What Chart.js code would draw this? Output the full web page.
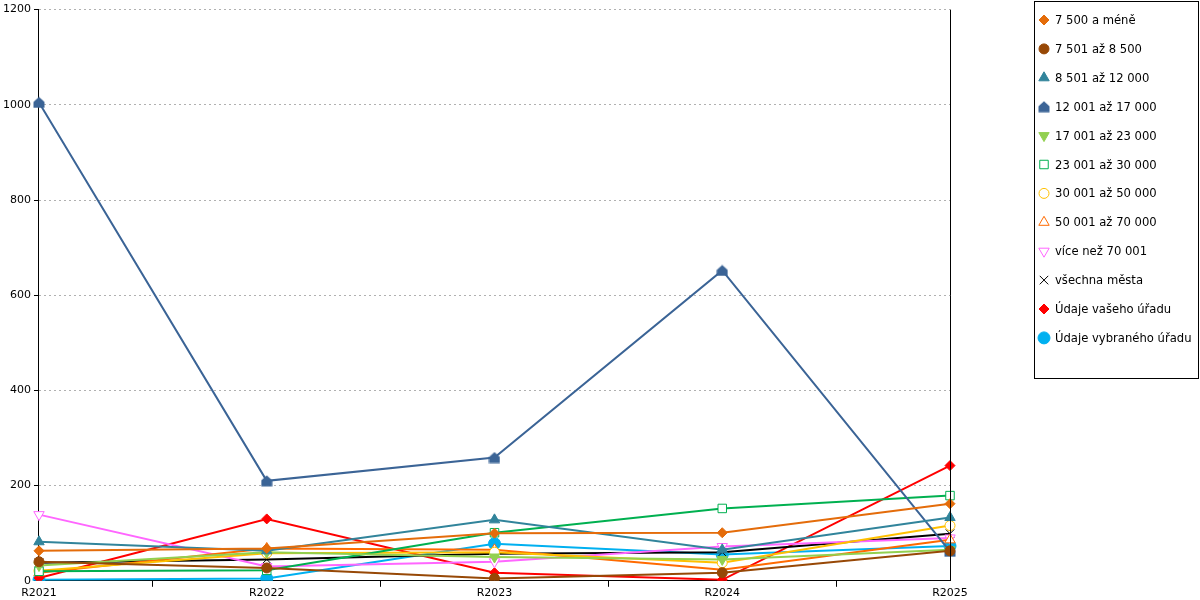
<!DOCTYPE html>
<html>
<head>
<meta charset="utf-8">
<script src="https://cdn.jsdelivr.net/npm/chart.js@4/dist/chart.umd.min.js"></script>
<style>
  html, body { margin: 0; padding: 0; background: #fff; }
  #wrap { width: 1200px; height: 600px; }
</style>
</head>
<body>
<div id="wrap"><canvas id="chart"></canvas></div>
<script>
// Data
const years = ['R2021', 'R2022', 'R2023', 'R2024', 'R2025'];
const yTicks = [0, 200, 400, 600, 800, 1000, 1200];

const upTo7500 = [63, 68, 100, 101, 162];
const from7501 = [40, 27, 5, 17, 63];
const from8501 = [82, 63, 128, 65, 133];
const from12001 = [1005, 210, 259, 652, 62];
const from17001 = [32, 60, 50, 45, 65];
const from23001 = [20, 22, 101, 152, 179];
const from30001 = [21, 58, 60, 38, 116];
const from50001 = [17, 68, 65, 23, 86];
const over70001 = [139, 30, 40, 72, 90];
const allCities = [38, 45, 57, 60, 99];
const yourOffice = [6, 130, 17, 2, 242];
const selectedOffice = [2, 5, 78, 55, 73];

// house shaped marker for 12 001 až 17 000
function houseMarker(color) {
    const c = document.createElement('canvas');
    c.width = 12; c.height = 12;
    const g = c.getContext('2d');
    g.fillStyle = color;
    g.beginPath();
    g.moveTo(6, 0.5);
    g.lineTo(11.5, 5.5);
    g.lineTo(11.5, 11.5);
    g.lineTo(0.5, 11.5);
    g.lineTo(0.5, 5.5);
    g.closePath();
    g.fill();
    return c;
}

function series(label, data, color, style, opts) {
    return Object.assign({
        label: label,
        data: data,
        borderColor: color,
        backgroundColor: color,
        borderWidth: 2,
        pointStyle: style,
        pointRadius: 5,
        pointBorderColor: color,
        pointBackgroundColor: color,
        pointBorderWidth: 1,
        pointRotation: 0,
        tension: 0
    }, opts || {});
}

const datasets = [
    series('7 500 a méně', upTo7500, '#e46c0a', 'rectRot'),
    series('7 501 až 8 500', from7501, '#974806', 'circle'),
    series('8 501 až 12 000', from8501, '#31849b', 'triangle', { pointRadius: 6 }),
    series('12 001 až 17 000', from12001, '#3b6496', houseMarker('#3b6496')),
    series('17 001 až 23 000', from17001, '#92d050', 'triangle', { pointRadius: 6, pointRotation: 180 }),
    series('23 001 až 30 000', from23001, '#00b050', 'rect', { pointBackgroundColor: '#fff', pointRadius: 6 }),
    series('30 001 až 50 000', from30001, '#ffc000', 'circle', { pointBackgroundColor: '#fff' }),
    series('50 001 až 70 000', from50001, '#ff6a00', 'triangle', { pointBackgroundColor: '#fff', pointRadius: 6 }),
    series('více než 70 001', over70001, '#ff66ff', 'triangle', { pointBackgroundColor: '#fff', pointRadius: 6, pointRotation: 180 }),
    series('všechna města', allCities, '#000000', 'crossRot', { pointRadius: 6 }),
    series('Údaje vašeho úřadu', yourOffice, '#ff0000', 'rectRot'),
    series('Údaje vybraného úřadu', selectedOffice, '#00b0f0', 'circle', { pointRadius: 6 })
];

// legend box on the right + right frame line
const framePlugin = {
    id: 'frame',
    afterDraw(chart) {
        const ctx = chart.ctx;
        const area = chart.chartArea;
        ctx.save();
        ctx.strokeStyle = '#000';
        ctx.lineWidth = 1;
        ctx.beginPath();
        ctx.moveTo(Math.round(area.right) + 0.5, area.top);
        ctx.lineTo(Math.round(area.right) + 0.5, area.bottom);
        ctx.stroke();

        // legend
        ctx.strokeRect(1034.5, 1.5, 164, 377);
        ctx.font = '11.6px "DejaVu Sans"';
        ctx.textBaseline = 'middle';
        chart.data.datasets.forEach((ds, i) => {
            const y = 20 + i * 28.9;
            ctx.fillStyle = ds.pointBackgroundColor;
            ctx.strokeStyle = ds.pointBorderColor;
            ctx.lineWidth = 1;
            Chart.helpers.drawPoint(ctx, {
                pointStyle: ds.pointStyle,
                radius: ds.pointRadius,
                rotation: ds.pointRotation,
                borderWidth: 1
            }, 1044, y);
            ctx.fillStyle = '#000';
            ctx.fillText(ds.label, 1055, y + 1);
        });
        ctx.restore();
    }
};

new Chart(document.getElementById('chart'), {
    type: 'line',
    data: { labels: years, datasets: datasets },
    plugins: [framePlugin],
    options: {
        responsive: true,
        maintainAspectRatio: false,
        animation: false,
        events: [],
        layout: { padding: { top: 4, right: 250, left: 0, bottom: 0 } },
        plugins: {
            legend: { display: false },
            tooltip: { enabled: false }
        },
        scales: {
            x: {
                offset: false,
                grid: {
                    offset: true,
                    drawOnChartArea: false,
                    tickLength: 6,
                    tickColor: '#000'
                },
                border: { display: true, color: '#000' },
                ticks: {
                    color: '#000',
                    padding: 0,
                    maxRotation: 0,
                    font: { family: 'DejaVu Sans', size: 11 }
                }
            },
            y: {
                min: 0,
                max: 1200,
                afterBuildTicks(axis) {
                    axis.ticks = yTicks.map(v => ({ value: v }));
                },
                grid: {
                    color: '#b0b0b0',
                    tickLength: 5,
                    tickColor: '#000',
                    tickBorderDash: []
                },
                border: { display: true, color: '#000', dash: [2, 3] },
                ticks: {
                    color: '#000',
                    padding: 3,
                    callback: v => String(v),
                    font: { family: 'DejaVu Sans', size: 11 }
                }
            }
        }
    }
});
</script>
</body>
</html>
